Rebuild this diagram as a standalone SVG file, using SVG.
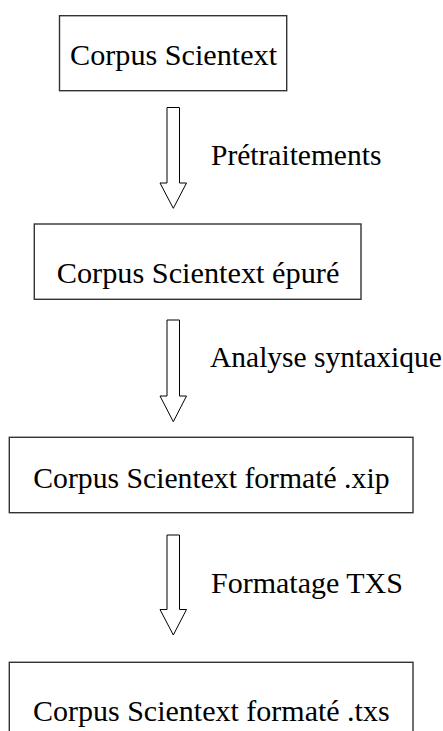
<svg xmlns="http://www.w3.org/2000/svg" width="443" height="731" viewBox="0 0 443 731">
<style>
.box{fill:#fff;stroke:#333;stroke-width:1.4}
.arrow{fill:#fff;stroke:#000;stroke-width:1}
text{font-family:'Liberation Serif','DejaVu Serif',serif;fill:#000}
</style>
<rect width="443" height="731" fill="#fff"/>
<g id="connectors">
<g id="arrow1">
<polygon class="arrow" points="167,107.5 179.5,107.5 179.5,183 186.5,183 173.3,208.3 160,183 167,183"/>
<text x="211" y="165" font-size="29.5">Prétraitements</text>
</g>
<g id="arrow2">
<polygon class="arrow" points="167,320 179.5,320 179.5,396 186.5,396 173.3,421.7 160,396 167,396"/>
<text x="210" y="367" font-size="29.5">Analyse syntaxique</text>
</g>
<g id="arrow3">
<polygon class="arrow" points="167,535 179.5,535 179.5,609.5 186.5,609.5 173.3,635 160,609.5 167,609.5"/>
<text x="211" y="593" font-size="30">Formatage TXS</text>
</g>
</g>
<g id="node1">
<rect class="box" x="59.5" y="15.7" width="227.2" height="75"/>
<text x="70" y="65" font-size="30.2">Corpus Scientext</text>
</g>
<g id="node2">
<rect class="box" x="34.3" y="224" width="326.7" height="75.3"/>
<text x="56.7" y="282.7" font-size="30.3">Corpus Scientext épuré</text>
</g>
<g id="node3">
<rect class="box" x="9.3" y="437.3" width="403.7" height="75.4"/>
<text x="33.3" y="488.3" font-size="29.7">Corpus Scientext formaté .xip</text>
</g>
<g id="node4">
<rect class="box" x="9.3" y="662.3" width="403.7" height="90"/>
<text x="33" y="721" font-size="30">Corpus Scientext formaté .txs</text>
</g>
</svg>
